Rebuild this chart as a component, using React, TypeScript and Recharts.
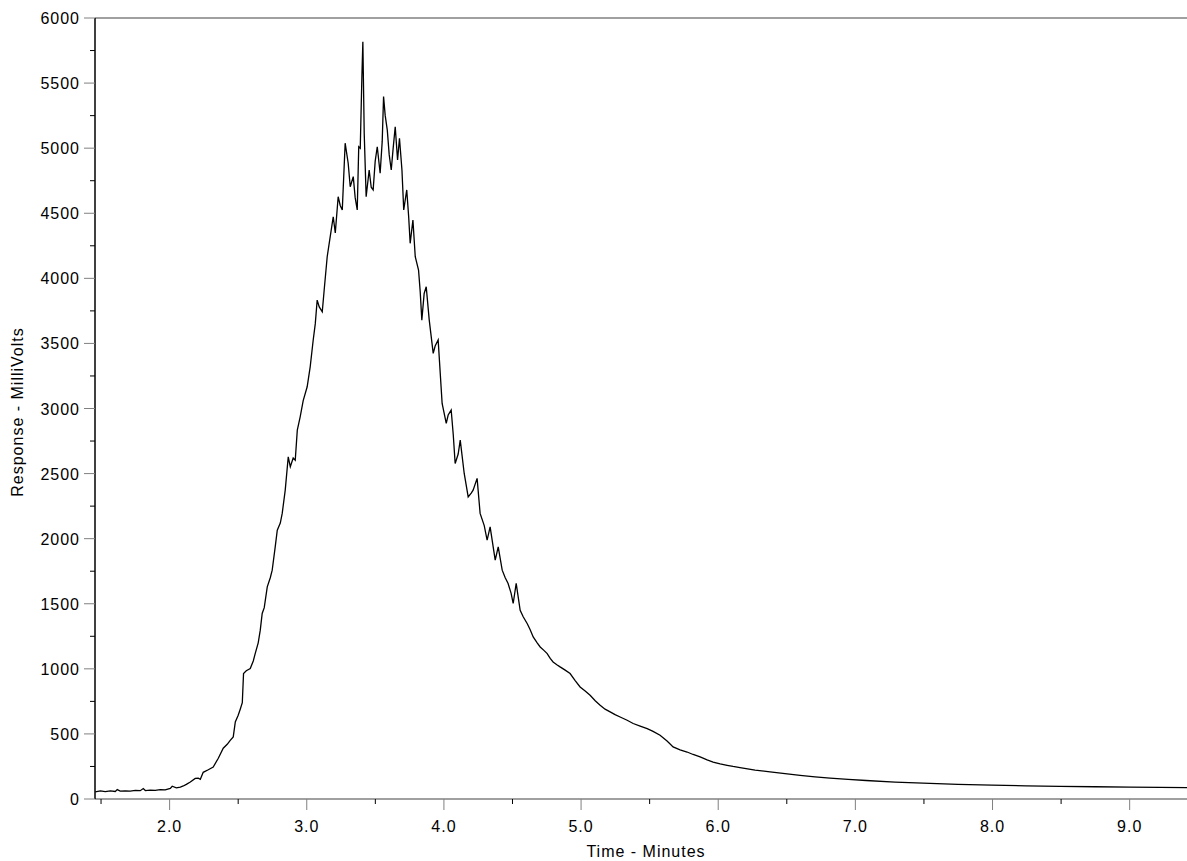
import React from "react";
import { LineChart, Line, XAxis, YAxis, ReferenceLine } from "recharts";

// time (minutes) and response (mV)
const times = [
  1.458, 1.495, 1.531, 1.568, 1.604, 1.618, 1.64, 1.677, 1.713, 1.75, 1.786, 1.808, 1.823, 1.859, 1.895, 1.932,
  1.968, 2.005, 2.019, 2.049, 2.078, 2.1, 2.122, 2.151, 2.187, 2.209, 2.224, 2.245, 2.282, 2.318, 2.355, 2.391,
  2.42, 2.442, 2.464, 2.479, 2.5, 2.515, 2.53, 2.539, 2.559, 2.588, 2.61, 2.624, 2.646, 2.661, 2.675, 2.69,
  2.712, 2.734, 2.748, 2.77, 2.785, 2.807, 2.821, 2.843, 2.865, 2.88, 2.901, 2.916, 2.931, 2.952, 2.974, 3.003,
  3.025, 3.047, 3.062, 3.076, 3.091, 3.113, 3.127, 3.149, 3.171, 3.193, 3.208, 3.229, 3.244, 3.259, 3.28, 3.302,
  3.317, 3.339, 3.353, 3.368, 3.379, 3.39, 3.402, 3.409, 3.419, 3.433, 3.455, 3.47, 3.484, 3.499, 3.514, 3.535,
  3.55, 3.56, 3.572, 3.587, 3.601, 3.616, 3.63, 3.645, 3.662, 3.676, 3.694, 3.707, 3.729, 3.743, 3.754, 3.774,
  3.791, 3.815, 3.827, 3.839, 3.856, 3.871, 3.893, 3.922, 3.936, 3.958, 3.987, 4.017, 4.031, 4.053, 4.068, 4.082,
  4.104, 4.119, 4.148, 4.177, 4.199, 4.213, 4.242, 4.264, 4.294, 4.315, 4.337, 4.374, 4.396, 4.425, 4.447, 4.468,
  4.49, 4.505, 4.527, 4.556, 4.578, 4.607, 4.629, 4.651, 4.68, 4.702, 4.731, 4.753, 4.775, 4.796, 4.826, 4.847,
  4.884, 4.92, 4.957, 4.993, 5.03, 5.066, 5.103, 5.139, 5.175, 5.212, 5.248, 5.285, 5.336, 5.38, 5.431, 5.482,
  5.525, 5.576, 5.627, 5.671, 5.722, 5.773, 5.817, 5.868, 5.919, 5.963, 6.014, 6.065, 6.108, 6.159, 6.269, 6.378,
  6.487, 6.597, 6.706, 6.815, 6.947, 7.078, 7.289, 7.493, 7.748, 7.996, 8.244, 8.492, 8.747, 9.002, 9.221, 9.418,
];

const response = [
  55, 62, 57, 63, 58, 72, 60, 63, 61, 66, 64, 80, 65, 68, 67, 72,
  70, 82, 98, 86, 92, 100, 112, 130, 158, 160, 151, 205, 225, 246, 313, 390,
  420, 451, 477, 592, 643, 690, 740, 964, 985, 1002, 1060, 1117, 1200, 1297, 1425, 1470,
  1630, 1700, 1758, 1937, 2065, 2120, 2194, 2373, 2629, 2552, 2620, 2603, 2834, 2936, 3060, 3167,
  3320, 3526, 3650, 3833, 3780, 3743, 3910, 4166, 4320, 4473, 4348, 4627, 4560, 4525, 5038, 4884,
  4704, 4781, 4620, 4525, 5011, 5000, 5550, 5818, 5110, 4627, 4832, 4700, 4679, 4900, 5011, 4807,
  5050, 5396, 5250, 5140, 4950, 4832, 5000, 5165, 4909, 5076, 4832, 4525, 4679, 4473, 4269, 4448,
  4166, 4064, 3900, 3679, 3884, 3935, 3679, 3424, 3480, 3526, 3039, 2885, 2950, 2988, 2800, 2578,
  2650, 2757, 2501, 2321, 2350, 2373, 2463, 2194, 2100, 1988, 2091, 1835, 1937, 1758, 1700, 1656,
  1580, 1502, 1656, 1450, 1400, 1348, 1300, 1245, 1200, 1168, 1140, 1117, 1080, 1053, 1030, 1015,
  990, 964, 910, 861, 830, 797, 755, 720, 690, 669, 648, 630, 605, 580, 560, 541,
  520, 490, 445, 400, 378, 361, 342, 323, 300, 284, 270, 259, 250, 241, 222, 208,
  195, 182, 170, 160, 150, 142, 130, 122, 113, 107, 101, 97, 94, 91, 89, 88,
];

const xTicks = [1.5, 2.0, 2.5, 3.0, 3.5, 4.0, 4.5, 5.0, 5.5, 6.0, 6.5, 7.0, 7.5, 8.0, 8.5, 9.0];
const yTicks = [
  0, 250, 500, 750, 1000, 1250, 1500, 1750, 2000, 2250, 2500, 2750, 3000, 3250, 3500, 3750, 4000, 4250, 4500,
  4750, 5000, 5250, 5500, 5750, 6000,
];

const data = times.map((t, i) => ({ t, v: response[i] }));

const GREY = "#808080";
const FONT = "'Liberation Sans', Arial, sans-serif";

function XTick(props: any) {
  const { x, y, payload } = props;
  const major = Math.abs(payload.value - Math.round(payload.value)) < 1e-6;
  return (
    <g>
      <line x1={x} x2={x} y1={y} y2={y + (major ? 11 : 5)} stroke={major ? GREY : "#000"} strokeWidth={1} />
      {major && (
        <text x={x} y={y + 33} textAnchor="middle" fontSize={16} letterSpacing={1} fill="#000" fontFamily={FONT}>
          {payload.value.toFixed(1)}
        </text>
      )}
    </g>
  );
}

function YTick(props: any) {
  const { x, y, payload } = props;
  const major = payload.value % 500 === 0;
  return (
    <g>
      <line x1={x - (major ? 11 : 5)} x2={x} y1={y} y2={y} stroke={major ? GREY : "#000"} strokeWidth={1} />
      {major && (
        <text x={x - 15} y={y + 6} textAnchor="end" fontSize={16} letterSpacing={1} fill="#000" fontFamily={FONT}>
          {payload.value}
        </text>
      )}
    </g>
  );
}

export default function App() {
  return (
    <div style={{ position: "absolute", left: 0, top: 0, width: 1187, height: 861, background: "#fff", fontFamily: FONT }}>
      <LineChart width={1187} height={861} data={data} margin={{ top: 18, right: 0, left: 0, bottom: 0 }}>
        <XAxis
          dataKey="t"
          type="number"
          domain={[1.456, 9.418]}
          allowDataOverflow
          ticks={xTicks}
          interval={0}
          height={62}
          tickSize={0}
          tickMargin={0}
          tickLine={false}
          axisLine={{ stroke: GREY, strokeWidth: 1.5 }}
          tick={<XTick />}
        />
        <YAxis
          type="number"
          domain={[0, 6000]}
          ticks={yTicks}
          interval={0}
          width={95}
          tickSize={0}
          tickMargin={0}
          tickLine={false}
          axisLine={{ stroke: "#000", strokeWidth: 1.5 }}
          tick={<YTick />}
        />
        <ReferenceLine y={6000} stroke={GREY} strokeWidth={1.5} ifOverflow="extendDomain" />
        <Line
          type="linear"
          dataKey="v"
          stroke="#000"
          strokeWidth={1.3}
          dot={false}
          isAnimationActive={false}
        />
      </LineChart>
      <svg width={1187} height={861} style={{ position: "absolute", left: 0, top: 0, pointerEvents: "none" }}>
        <text x={23} y={412} transform="rotate(-90 23 412)" textAnchor="middle" fontSize={16} letterSpacing={1} fontFamily={FONT}>
          Response - MilliVolts
        </text>
        <text x={646} y={857} textAnchor="middle" fontSize={16} letterSpacing={1} fontFamily={FONT}>
          Time - Minutes
        </text>
      </svg>
    </div>
  );
}
